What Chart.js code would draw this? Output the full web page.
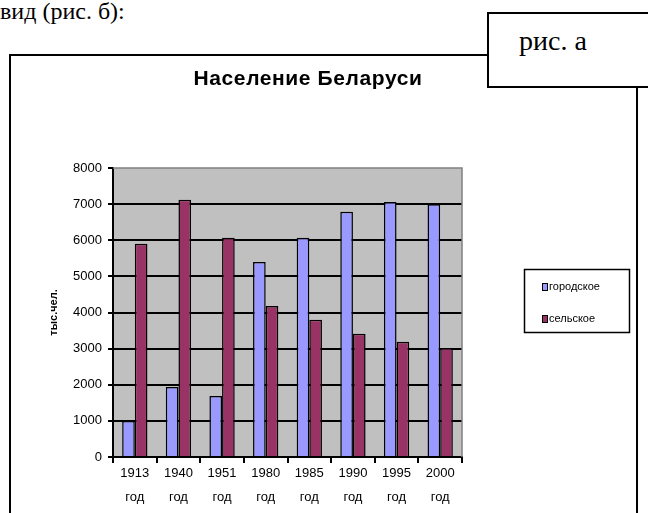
<!DOCTYPE html>
<html>
<head>
<meta charset="utf-8">
<script src="https://cdn.jsdelivr.net/npm/chart.js@4/dist/chart.umd.min.js"></script>
<style>
  html, body { margin: 0; padding: 0; background: #fff; overflow: hidden; }
  body { width: 648px; height: 513px; position: relative; }
  #lead { position: absolute; left: 0; top: -1px; font: 24px "Liberation Serif", "Times New Roman", serif; line-height: 1; white-space: nowrap; }
  #frame { position: absolute; left: 9px; top: 54px; width: 625px; height: 480px; border: 2px solid #000; }
  #tag { position: absolute; left: 487px; top: 12px; width: 200px; height: 72px; border: 2px solid #000; background: #fff; z-index: 2; }
  #tag span { position: absolute; left: 30px; top: 13px; font: 28px "Liberation Serif", "Times New Roman", serif; line-height: 1; white-space: nowrap; }
  canvas { position: absolute; left: 0; top: 0; z-index: 1; }
</style>
</head>
<body>
<div id="lead">вид (рис. б):</div>
<div id="frame"></div>
<div id="tag"><span>рис. а</span></div>
<canvas id="chart" width="648" height="513"></canvas>
<script>
const chartTitle = "Население Беларуси";
const yTitle = "тыс.чел.";
const years = ["1913", "1940", "1951", "1980", "1985", "1990", "1995", "2000"];
const yearWord = "год";
const seriesNames = ["городское", "сельское"];
const urban = [1000, 1940, 1690, 5400, 6070, 6790, 7060, 7000];
const rural = [5900, 7120, 6070, 4180, 3800, 3410, 3190, 3020];
const yMin = 0, yMax = 8000, yStep = 1000;

const FONT = '"Liberation Sans", Arial, sans-serif';
const colors = ["#9999ff", "#993366"];

// plot background, border, title and boxed legend (Excel look)
const excelLook = {
    id: "excelLook",
    beforeDraw(chart) {
        const {ctx, chartArea: a} = chart;
        ctx.save();
        ctx.fillStyle = "#c0c0c0";
        ctx.fillRect(a.left, a.top, a.right - a.left, a.bottom - a.top);
        ctx.restore();
    },
    beforeDatasetsDraw(chart) {
        const {ctx, chartArea: a} = chart;
        ctx.save();
        ctx.strokeStyle = "#808080";
        ctx.lineWidth = 1.5;
        ctx.beginPath();
        ctx.moveTo(a.left, a.top);
        ctx.lineTo(a.right, a.top);
        ctx.lineTo(a.right, a.bottom);
        ctx.stroke();
        ctx.restore();
    },
    afterDraw(chart) {
        const ctx = chart.ctx;
        ctx.save();
        ctx.fillStyle = "#000";
        ctx.font = "bold 21px " + FONT;
        ctx.letterSpacing = "0.6px";
        ctx.textAlign = "center";
        ctx.textBaseline = "middle";
        ctx.fillText(chartTitle, 308, 79);
        ctx.letterSpacing = "0px";

        // legend box
        ctx.strokeStyle = "#000";
        ctx.lineWidth = 1.5;
        ctx.strokeRect(524.5, 269.5, 105, 63);
        ctx.font = "11px " + FONT;
        ctx.textAlign = "left";
        chart.data.datasets.forEach((ds, i) => {
            const y = 287 + i * 32;
            ctx.fillStyle = ds.backgroundColor;
            ctx.fillRect(542, y - 4, 6, 8);
            ctx.lineWidth = 1;
            ctx.strokeRect(542.5, y - 3.5, 5, 7);
            ctx.fillStyle = "#000";
            ctx.fillText(ds.label, 549, y);
        });
        ctx.restore();
    }
};

new Chart(document.getElementById("chart"), {
    type: "bar",
    data: {
        labels: years.map(y => [y, yearWord]),
        datasets: [
            {label: seriesNames[0], data: urban, backgroundColor: colors[0]},
            {label: seriesNames[1], data: rural, backgroundColor: colors[1]},
        ].map(ds => Object.assign(ds, {
            borderColor: "#000", borderWidth: 1.5,
            categoryPercentage: 0.58, barPercentage: 1
        }))
    },
    options: {
        responsive: false,
        animation: false,
        devicePixelRatio: 1,
        layout: {padding: {left: 47, top: 168, right: 186, bottom: 0}},
        plugins: {
            legend: {display: false},
            title: {display: false},
            tooltip: {enabled: false}
        },
        scales: {
            x: {
                grid: {offset: true, drawOnChartArea: false, drawTicks: true,
                       tickLength: 6, tickColor: "#000", lineWidth: 2},
                border: {color: "#000", width: 2},
                ticks: {color: "#000", font: {family: FONT, size: 13, lineHeight: 1.8},
                        padding: -1, maxRotation: 0, autoSkip: false},
                afterFit: s => { s.height = 56; }
            },
            y: {
                min: yMin, max: yMax,
                ticks: {stepSize: yStep, color: "#000", font: {family: FONT, size: 13}, padding: 6,
                        callback: v => String(v)},
                grid: {
                    color: c => (c.tick && c.tick.value === yMax) ? "rgba(0,0,0,0)" : "#000",
                    tickColor: "#000", lineWidth: 2, tickLength: 5
                },
                border: {color: "#000", width: 2},
                title: {display: true, text: yTitle, color: "#000",
                        font: {family: FONT, size: 11, weight: "bold"}, padding: 0},
                afterFit: s => { s.width = 66; }
            }
        }
    },
    plugins: [excelLook]
});
</script>
</body>
</html>
